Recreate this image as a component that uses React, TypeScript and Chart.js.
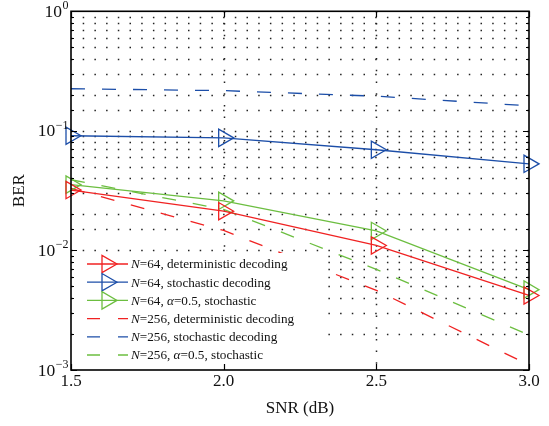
import React, { useEffect, useRef } from 'react';
import { Chart, registerables } from 'chart.js';

Chart.register(...registerables);

// ---------- data ----------
const snr = [1.5, 2.0, 2.5, 3.0];
const n64Det = [0.032, 0.0213, 0.011, 0.0042];
const n64Sto = [0.091, 0.0874, 0.0695, 0.053];
const n64Alpha = [0.0355, 0.026, 0.01455, 0.0047];
const n256Det = [0.033, 0.0147, 0.00464, 0.0011];
const n256Sto = [0.225, 0.217, 0.195, 0.162];
const n256Alpha = [0.039, 0.022, 0.00695, 0.00196];

const seriesLabels = [
  'N=64, deterministic decoding',
  'N=64, stochastic decoding',
  'N=64, α=0.5, stochastic',
  'N=256, deterministic decoding',
  'N=256, stochastic decoding',
  'N=256, α=0.5, stochastic',
];
const xTickValues = [1.5, 2.0, 2.5, 3.0];
const xTickLabels = ['1.5', '2.0', '2.5', '3.0'];
const yDecades = [1e-3, 1e-2, 1e-1, 1];
const yExponents = ['−3', '−2', '−1', '0'];
const xTitle = 'SNR (dB)';
const yTitle = 'BER';

// ---------- styles ----------
const RED = 'rgb(240,34,34)';
const BLUE = 'rgb(28,78,168)';
const GREEN = 'rgb(108,190,64)';
const SERIF = '"Liberation Serif", "DejaVu Serif", serif';
const DASH = [14, 17];

const seriesData = [n64Det, n64Sto, n64Alpha, n256Det, n256Sto, n256Alpha];
const seriesColors = [RED, BLUE, GREEN, RED, BLUE, GREEN];
const seriesDashed = [false, false, false, true, true, true];

function triangle(ctx: CanvasRenderingContext2D, x: number, y: number, r: number) {
  ctx.beginPath();
  for (let k = 0; k < 3; k++) {
    const a = Math.PI / 2 + (k * 2 * Math.PI) / 3;
    const px = x + Math.sin(a) * r;
    const py = y - Math.cos(a) * r;
    if (k === 0) ctx.moveTo(px, py);
    else ctx.lineTo(px, py);
  }
  ctx.closePath();
  ctx.stroke();
}

const decorPlugin = {
  id: 'decor',
  beforeDatasetsDraw(chart: any) {
    const { ctx, chartArea: a, scales } = chart;
    const ys = scales.y;
    const xs = scales.x;
    ctx.save();
    ctx.strokeStyle = '#222';
    ctx.lineWidth = 1.5;
    ctx.setLineDash([1.5, 10.2]);
    for (const t of ys.ticks) {
      const py = Math.round(ys.getPixelForValue(t.value)) + 0.5;
      if (py <= a.top + 1 || py >= a.bottom - 1) continue;
      ctx.beginPath();
      ctx.moveTo(a.left, py);
      ctx.lineTo(a.right, py);
      ctx.stroke();
    }
    for (const v of xTickValues) {
      const px = Math.round(xs.getPixelForValue(v)) + 0.5;
      if (px <= a.left + 1 || px >= a.right - 1) continue;
      ctx.beginPath();
      ctx.moveTo(px, a.top);
      ctx.lineTo(px, a.bottom);
      ctx.stroke();
    }
    ctx.restore();
  },
  afterDatasetsDraw(chart: any) {
    const { ctx, chartArea: a, scales } = chart;
    const ys = scales.y;
    const xs = scales.x;
    ctx.save();

    // legend box
    const lx = 87;
    const ly0 = 264;
    const lstep = 18.2;
    ctx.fillStyle = '#fff';
    ctx.fillRect(a.left + 2, 253, 248, a.bottom - 253 - 2);
    seriesLabels.forEach((label, i) => {
      const y = ly0 + i * lstep;
      ctx.strokeStyle = seriesColors[i];
      ctx.lineWidth = 1.3;
      ctx.setLineDash(seriesDashed[i] ? [13, 18] : []);
      ctx.beginPath();
      ctx.moveTo(lx, y);
      ctx.lineTo(lx + 41, y);
      ctx.stroke();
      ctx.setLineDash([]);
      if (!seriesDashed[i]) triangle(ctx, lx + 20, y, 10);
      const parts = label.split(/(N|α)/).filter((p) => p.length > 0);
      let tx = lx + 44;
      ctx.fillStyle = '#111';
      ctx.textBaseline = 'middle';
      ctx.textAlign = 'left';
      for (const p of parts) {
        const it = p === 'N' || p === 'α';
        ctx.font = `${it ? 'italic ' : ''}13.2px ${SERIF}`;
        ctx.fillText(p, tx, y + 1);
        tx += ctx.measureText(p).width;
      }
    });

    // axis box
    ctx.setLineDash([]);
    ctx.strokeStyle = '#000';
    ctx.lineWidth = 1.6;
    ctx.strokeRect(a.left, a.top, a.right - a.left, a.bottom - a.top);

    // inward ticks
    ctx.lineWidth = 1.2;
    for (const t of ys.ticks) {
      const py = Math.round(ys.getPixelForValue(t.value)) + 0.5;
      const major = yDecades.some((d) => Math.abs(d - t.value) / d < 1e-6);
      const len = major ? 6 : 3;
      ctx.beginPath();
      ctx.moveTo(a.left, py);
      ctx.lineTo(a.left + len, py);
      ctx.moveTo(a.right, py);
      ctx.lineTo(a.right - len, py);
      ctx.stroke();
    }
    for (const v of xTickValues) {
      const px = Math.round(xs.getPixelForValue(v)) + 0.5;
      ctx.beginPath();
      ctx.moveTo(px, a.bottom);
      ctx.lineTo(px, a.bottom - 6);
      ctx.moveTo(px, a.top);
      ctx.lineTo(px, a.top + 6);
      ctx.stroke();
    }

    // y tick labels
    ctx.fillStyle = '#111';
    ctx.textBaseline = 'middle';
    yDecades.forEach((d, i) => {
      const py = ys.getPixelForValue(d);
      ctx.font = `17.5px ${SERIF}`;
      const w10 = ctx.measureText('10').width;
      ctx.font = `12px ${SERIF}`;
      const we = ctx.measureText(yExponents[i]).width;
      const right = a.left - 3;
      const x0 = right - w10 - we;
      ctx.textAlign = 'left';
      ctx.font = `17.5px ${SERIF}`;
      ctx.fillText('10', x0, py + 1);
      ctx.font = `12px ${SERIF}`;
      ctx.fillText(yExponents[i], x0 + w10 + 0.5, py - 5.5);
    });

    // x tick labels
    ctx.font = `17px ${SERIF}`;
    ctx.textAlign = 'center';
    xTickValues.forEach((v, i) => {
      ctx.fillText(xTickLabels[i], xs.getPixelForValue(v), a.bottom + 12);
    });

    // titles
    ctx.fillText(xTitle, (a.left + a.right) / 2, a.bottom + 39);
    ctx.translate(20, (a.top + a.bottom) / 2);
    ctx.rotate(-Math.PI / 2);
    ctx.fillText(yTitle, 0, 0);

    ctx.restore();
  },
};

export default function App() {
  const ref = useRef<HTMLCanvasElement | null>(null);

  useEffect(() => {
    if (!ref.current) return;
    const datasets = seriesData.map((vals, i) => ({
      label: seriesLabels[i],
      data: vals.map((v, k) => ({ x: snr[k], y: v })),
      borderColor: seriesColors[i],
      backgroundColor: 'rgba(0,0,0,0)',
      borderWidth: 1.3,
      borderDash: seriesDashed[i] ? DASH : [],
      pointStyle: 'triangle',
      rotation: 90,
      pointRadius: seriesDashed[i] ? 0 : 10,
      pointBorderWidth: 1.3,
      pointBorderColor: seriesColors[i],
      pointBackgroundColor: 'rgba(0,0,0,0)',
      tension: 0,
      clip: false as any,
    }));
    const chart = new Chart(ref.current, {
      type: 'line',
      data: { datasets },
      options: {
        responsive: false,
        animation: false,
        layout: { padding: { top: 10, right: 20, left: 0, bottom: 0 } },
        plugins: { legend: { display: false }, tooltip: { enabled: false } },
        scales: {
          x: {
            type: 'linear',
            min: 1.5,
            max: 3.0,
            ticks: { display: false, stepSize: 0.5 },
            grid: { display: false },
            border: { display: false },
            afterFit: (s: any) => {
              s.height = 56;
            },
          },
          y: {
            type: 'logarithmic',
            min: 0.001,
            max: 1,
            ticks: { display: false },
            grid: { display: false },
            border: { display: false },
            afterFit: (s: any) => {
              s.width = 71;
            },
          },
        },
      } as any,
      plugins: [decorPlugin],
    });
    return () => chart.destroy();
  }, []);

  return (
    <div style={{ position: 'fixed', left: 0, top: 0, width: 549, height: 426, background: '#fff' }}>
      <canvas ref={ref} width={549} height={426} style={{ width: 549, height: 426 }} />
    </div>
  );
}
